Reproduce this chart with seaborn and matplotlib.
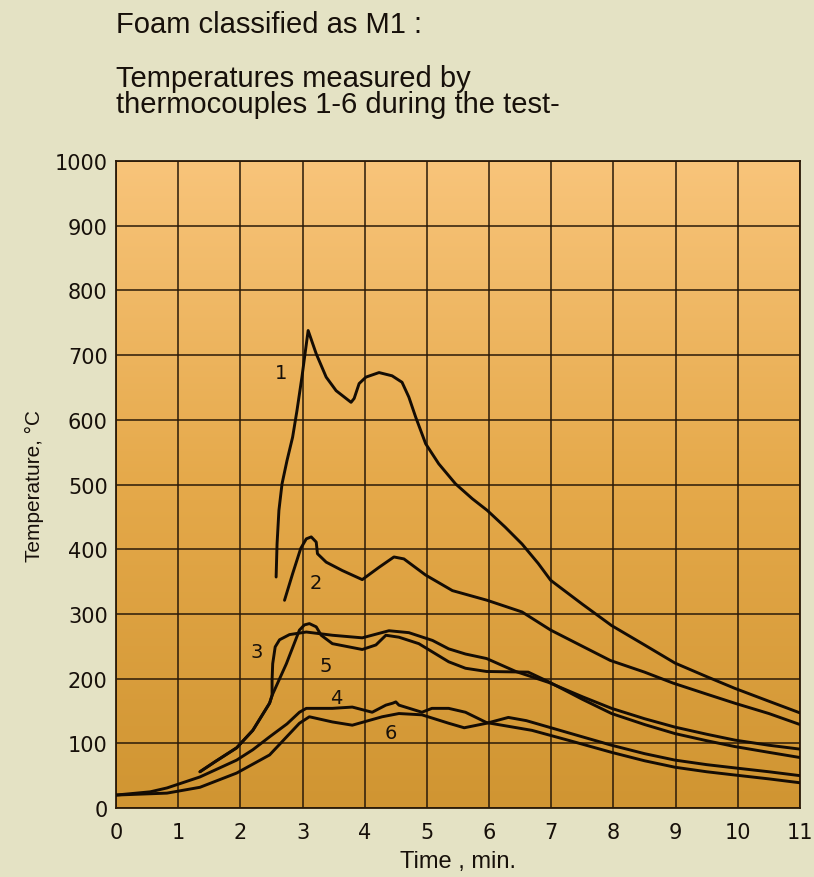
import numpy as np
import pandas as pd
import matplotlib
matplotlib.use("Agg")
import matplotlib.pyplot as plt
from matplotlib.colors import LinearSegmentedColormap
import seaborn as sns

sns.set_theme(style="white")
plt.rcParams['font.family'] = ['Liberation Sans', 'DejaVu Sans']

# ---- data (time in min, temperature in °C) ----
t1 = [2.575, 2.59, 2.62, 2.67, 2.75, 2.84, 2.91, 2.99, 3.04, 3.09, 3.22, 3.38, 3.54, 3.78, 3.83,
      3.91, 4.02, 4.23, 4.44, 4.60, 4.71, 4.82, 4.98, 5.19, 5.46, 5.73, 5.97, 6.26, 6.53, 6.79,
      6.99, 7.5, 7.97, 8.5, 8.99, 9.5, 9.95, 10.5, 11.0]
T1 = [357, 408, 460, 501, 537, 573, 614, 666, 702, 738, 702, 666, 645, 627, 633,
      656, 666, 673, 668, 658, 635, 604, 563, 532, 501, 478, 460, 434, 408, 378,
      352, 315, 282, 252, 224, 203, 185, 165, 147]

t2 = [2.71, 2.84, 2.97, 3.06, 3.14, 3.22, 3.24, 3.38, 3.64, 3.96, 4.23, 4.47, 4.63, 4.98, 5.41,
      5.97, 6.53, 6.99, 7.5, 7.95, 8.5, 8.96, 9.5, 9.95, 10.5, 11.0]
T2 = [321, 362, 401, 416, 419, 411, 393, 380, 367, 353, 372, 388, 385, 360, 336,
      321, 303, 275, 250, 228, 210, 193, 176, 162, 146, 129]

t3 = [1.35, 1.6, 1.94, 2.2, 2.47, 2.51, 2.51, 2.52, 2.56, 2.63, 2.79, 3.06, 3.48, 3.96, 4.39,
      4.71, 5.09, 5.35, 5.62, 5.96, 6.43, 6.96, 7.5, 7.97, 8.5, 8.99, 9.5, 9.95, 10.5, 11.0]
T3 = [56, 72, 93, 120, 162, 174, 198, 223, 249, 260, 268, 272, 267, 263, 274,
      271, 259, 246, 238, 231, 211, 194, 172, 154, 138, 125, 114, 105, 97, 91]

t5 = [1.35, 1.6, 1.94, 2.2, 2.47, 2.51, 2.74, 2.95, 3.03, 3.11, 3.22, 3.30, 3.48, 3.96, 4.18,
      4.34, 4.55, 4.87, 5.35, 5.62, 5.96, 6.63, 6.96, 7.5, 7.97, 8.5, 8.99, 9.5, 9.95, 10.5, 11.0]
T5 = [56, 72, 93, 120, 162, 174, 223, 275, 283, 285, 280, 267, 254, 245, 252,
      267, 264, 254, 226, 216, 211, 210, 195, 168, 146, 129, 115, 104, 95, 86, 78]

t4 = [0.0, 0.55, 0.82, 1.35, 1.94, 2.2, 2.47, 2.75, 2.95, 3.06, 3.48, 3.8, 4.12, 4.34, 4.45,
      4.5, 4.55, 4.92, 5.08, 5.35, 5.62, 5.96, 6.69, 7.3, 7.97, 8.5, 8.99, 9.5, 9.95, 10.5, 11.0]
T4 = [20, 25, 31, 48, 74, 90, 110, 130, 148, 154, 154, 156, 148, 159, 162,
      164, 159, 148, 154, 154, 148, 132, 120, 104, 86, 73, 63, 56, 51, 45, 39]

t6 = [0.0, 0.82, 1.35, 1.94, 2.47, 2.95, 3.11, 3.48, 3.8, 4.28, 4.55, 4.92, 5.35, 5.6, 5.96,
      6.31, 6.6, 6.96, 7.5, 7.97, 8.5, 8.99, 9.5, 9.95, 10.5, 11.0]
T6 = [20, 23, 32, 54, 82, 131, 141, 133, 128, 141, 146, 144, 131, 124, 131,
      140, 135, 125, 110, 97, 84, 74, 67, 62, 56, 50]

curve_names = ["1", "2", "3", "4", "5", "6"]
label_pos_t = [2.66, 3.22, 2.27, 3.54, 3.38, 4.42]
label_pos_T = [673, 349, 242, 171, 221, 116]

x_ticks = list(range(0, 12))
y_ticks = list(range(0, 1001, 100))

title_lines = ["Foam classified as M1 :", "Temperatures measured by",
               "thermocouples 1-6 during the test-"]

frames = []
for name, tt, TT in zip(curve_names, [t1, t2, t3, t4, t5, t6], [T1, T2, T3, T4, T5, T6]):
    frames.append(pd.DataFrame({"time": tt, "temp": TT, "curve": name,
                                "order": np.arange(len(tt))}))
df = pd.concat(frames, ignore_index=True)

INK = "#17100a"
WIDE = ['DejaVu Sans']

# ---- figure ----
W, H = 814, 878
fig = plt.figure(figsize=(W / 100, H / 100), dpi=100, facecolor="#e4e2c4")
ax = fig.add_axes([116 / W, 1 - 809 / H, (800 - 116) / W, (809 - 162) / H])

# gradient background of plot area
cmap = LinearSegmentedColormap.from_list("bg", ["#d09532", "#e5a94a", "#f8c47a"])
ax.imshow(np.linspace(0, 1, 256).reshape(-1, 1), extent=[0, 11, 0, 1000],
          aspect="auto", cmap=cmap, origin="lower", zorder=0)

ax.set_xlim(0, 11)
ax.set_ylim(0, 1000)
ax.set_xticks(x_ticks)
ax.set_yticks(y_ticks)
ax.grid(True, color="#2a1a08", lw=1.1, zorder=1)
ax.set_axisbelow(False)

sns.lineplot(data=df, x="time", y="temp", units="curve", estimator=None, sort=False,
             color="#140c04", lw=2.1, ax=ax, zorder=3, legend=False)

for name, tx, ty in zip(curve_names, label_pos_t, label_pos_T):
    ax.text(tx, ty, name, fontsize=14, ha="center", va="center", color=INK,
            zorder=4, family=WIDE)

for s in ax.spines.values():
    s.set_color("#2a1a08")
    s.set_linewidth(1.3)

ax.tick_params(axis="both", length=0, colors=INK)
ax.tick_params(axis="x", pad=10)
ax.tick_params(axis="y", pad=6)
for lab in ax.get_xticklabels() + ax.get_yticklabels():
    lab.set_family(WIDE)
    lab.set_fontsize(15)

ax.set_xlabel("Time , min.", fontsize=17, color=INK)
ax.xaxis.set_label_coords(0.5, -(851 - 809) / (809 - 162))
ax.set_ylabel("Temperature, °C", fontsize=15, color=INK)
ax.yaxis.set_label_coords(-(116 - 44) / (800 - 116), 0.5)

for line, base in zip(title_lines, [33, 87, 113]):
    fig.text(116 / W, 1 - base / H, line, fontsize=21, color=INK,
             ha="left", va="baseline")

fig.savefig("out.png", dpi=100, facecolor=fig.get_facecolor())
